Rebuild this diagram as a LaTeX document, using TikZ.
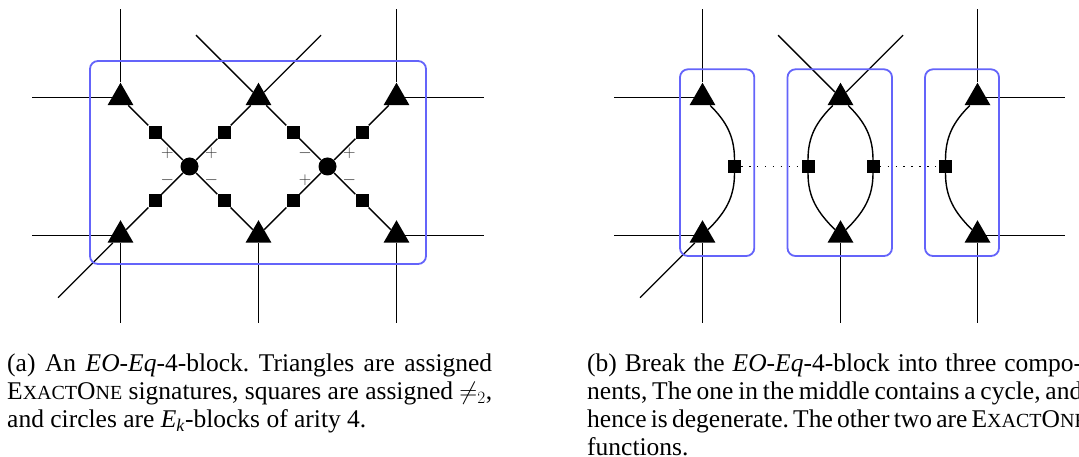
\documentclass[tikz,border=0pt]{standalone}
\usepackage{fontspec}
\setmainfont{Liberation Serif}
\usetikzlibrary{shapes.geometric,calc}
\definecolor{blueb}{RGB}{100,100,250}
\newcommand{\capsm}[1]{{\fontsize{20}{20}\selectfont #1}}
\newcommand{\capline}[1]{\makebox[495pt][s]{#1}}
\tikzset{
 tri/.style={regular polygon,regular polygon sides=3,fill=black,inner sep=0pt,minimum size=30pt},
 sq/.style={rectangle,fill=black,inner sep=0pt,minimum size=13pt},
 ekc/.style={circle,fill=black,inner sep=0pt,minimum size=18pt},
 wire/.style={line width=1.4pt},
 blk/.style={draw=blueb,line width=1.8pt,rounded corners=8pt},
 sgn/.style={text=black!80,font=\fontsize{16}{16}\selectfont,inner sep=0pt},
 captext/.style={anchor=base west,inner sep=0pt},
 dotline/.style={line width=1.4pt,dash pattern=on 1.4pt off 6.5pt}
}
\begin{document}
\begin{tikzpicture}[x=1pt,y=1pt]
\useasboundingbox (0,0) rectangle (1079,457);
\clip (0,0) rectangle (1079,457);
% ---------- left panel ----------
\node[tri] (T1) at (120.5,359.25) {};
\node[tri] (T2) at (258.5,359.25) {};
\node[tri] (T3) at (396.5,359.25) {};
\node[tri] (B1) at (120.5,221.75) {};
\node[tri] (B2) at (258.5,221.75) {};
\node[tri] (B3) at (396.5,221.75) {};
\node[ekc] (C1) at (189.5,290.5) {};
\node[ekc] (C2) at (327.5,290.5) {};
\node[sq] (s1) at ($(T1)!0.5!(C1)$) {};
\node[sq] (s2) at ($(T2)!0.5!(C1)$) {};
\node[sq] (s3) at ($(T2)!0.5!(C2)$) {};
\node[sq] (s4) at ($(T3)!0.5!(C2)$) {};
\node[sq] (s5) at ($(B1)!0.5!(C1)$) {};
\node[sq] (s6) at ($(B2)!0.5!(C1)$) {};
\node[sq] (s7) at ($(B2)!0.5!(C2)$) {};
\node[sq] (s8) at ($(B3)!0.5!(C2)$) {};
\draw[wire] (T1) -- (s1) -- (C1);
\draw[wire] (T2) -- (s2) -- (C1);
\draw[wire] (T2) -- (s3) -- (C2);
\draw[wire] (T3) -- (s4) -- (C2);
\draw[wire] (B1) -- (s5) -- (C1);
\draw[wire] (B2) -- (s6) -- (C1);
\draw[wire] (B2) -- (s7) -- (C2);
\draw[wire] (B3) -- (s8) -- (C2);
% external wires
\coordinate (e1) at (120.5,447.7);
\coordinate (e2) at (32.3,359.25);
\coordinate (e3) at (196,421.75);
\coordinate (e4) at (321,421.75);
\coordinate (e5) at (396.5,447.7);
\coordinate (e6) at (484,359.25);
\coordinate (e7) at (32.3,221.75);
\coordinate (e8) at (120.5,134.3);
\coordinate (e9) at (58,159.25);
\coordinate (e10) at (258.5,134.3);
\coordinate (e11) at (484,221.75);
\coordinate (e12) at (396.5,134.3);
\draw[wire] (T1) -- (e1);
\draw[wire] (T1) -- (e2);
\draw[wire] (T2) -- (e3);
\draw[wire] (T2) -- (e4);
\draw[wire] (T3) -- (e5);
\draw[wire] (T3) -- (e6);
\draw[wire] (B1) -- (e7);
\draw[wire] (B1) -- (e8);
\draw[wire] (B1) -- (e9);
\draw[wire] (B2) -- (e10);
\draw[wire] (B3) -- (e11);
\draw[wire] (B3) -- (e12);
% signs
\node[sgn] (p1) at (167.4,304) {$+$};
\node[sgn] (p2) at (211.4,304) {$+$};
\node[sgn] (p3) at (167.4,277) {$-$};
\node[sgn] (p4) at (211.4,277) {$-$};
\node[sgn] (p5) at (305.2,304) {$-$};
\node[sgn] (p6) at (349.4,304) {$+$};
\node[sgn] (p7) at (305.2,277) {$+$};
\node[sgn] (p8) at (349.4,277) {$-$};
% block
\draw[blk] (90,193) rectangle (426,396);
% ---------- right panel ----------
\node[tri] (R1) at (702.5,359.25) {};
\node[tri] (R2) at (840.5,359.25) {};
\node[tri] (R3) at (977.5,359.25) {};
\node[tri] (Q1) at (702.5,221.75) {};
\node[tri] (Q2) at (840.5,221.75) {};
\node[tri] (Q3) at (977.5,221.75) {};
\node[sq] (r1) at (734.5,290.5) {};
\node[sq] (r2) at (808,290.5) {};
\node[sq] (r3) at (873,290.5) {};
\node[sq] (r4) at (945.5,290.5) {};
\draw[wire] (R1) to[out=-45,in=90] (r1) to[out=-90,in=45] (Q1);
\draw[wire] (R2) to[out=-135,in=90] (r2) to[out=-90,in=135] (Q2);
\draw[wire] (R2) to[out=-45,in=90] (r3) to[out=-90,in=45] (Q2);
\draw[wire] (R3) to[out=-135,in=90] (r4) to[out=-90,in=135] (Q3);
\draw[dotline] (r1) -- (r2);
\draw[dotline] (r3) -- (r4);
\coordinate (f1) at (702.5,447.7);
\coordinate (f2) at (614.3,359.25);
\coordinate (f3) at (778,421.75);
\coordinate (f4) at (903,421.75);
\coordinate (f5) at (977.5,447.7);
\coordinate (f6) at (1065.3,359.25);
\coordinate (f7) at (614.3,221.75);
\coordinate (f8) at (702.5,134.3);
\coordinate (f9) at (640,159.25);
\coordinate (f10) at (840.5,134.3);
\coordinate (f11) at (1065.3,221.75);
\coordinate (f12) at (977.5,134.3);
\draw[wire] (R1) -- (f1);
\draw[wire] (R1) -- (f2);
\draw[wire] (R2) -- (f3);
\draw[wire] (R2) -- (f4);
\draw[wire] (R3) -- (f5);
\draw[wire] (R3) -- (f6);
\draw[wire] (Q1) -- (f7);
\draw[wire] (Q1) -- (f8);
\draw[wire] (Q1) -- (f9);
\draw[wire] (Q2) -- (f10);
\draw[wire] (Q3) -- (f11);
\draw[wire] (Q3) -- (f12);
\draw[blk] (680,201) rectangle (754.3,387.7);
\draw[blk] (787.5,201) rectangle (892,387.7);
\draw[blk] (925,201) rectangle (999,387.7);
% ---------- captions ----------
\node[captext] (capa) at (7,85) {\parbox[t]{485pt}{\fontsize{25.5}{27.7}\selectfont\frenchspacing (a) An \textit{EO}-\textit{Eq}-4-block. Triangles are assigned\linebreak E\capsm{XACT}O\capsm{NE} signatures, squares are assigned $\neq_2$,\linebreak and circles are \textit{E}\textsubscript{\textit{k}}-blocks of arity 4.}};
\node[captext] (capb) at (587,85) {\parbox[t]{495pt}{\fontsize{25.5}{27.7}\selectfont\frenchspacing
\capline{(b) Break the \textit{EO}-\textit{Eq}-4-block into three compo-}\\
\capline{nents, The one in the middle contains a cycle, and}\\
\capline{hence is degenerate. The other two are E\capsm{XACT}O\capsm{NE}}\\
functions.}};
\end{tikzpicture}
\end{document}
